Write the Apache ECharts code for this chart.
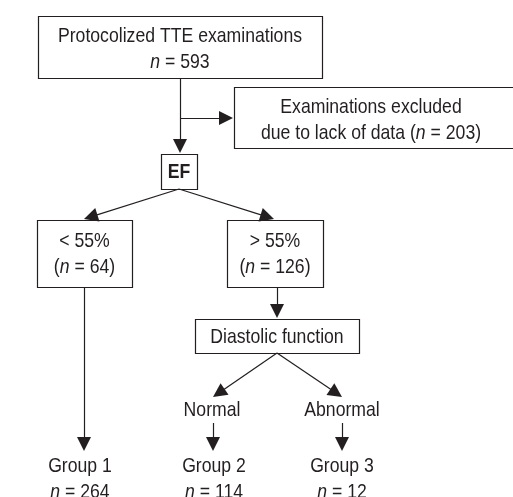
<!DOCTYPE html>
<html>
<head>
<meta charset="utf-8">
<script src="https://cdn.jsdelivr.net/npm/echarts@6/dist/echarts.min.js"></script>
<style>html,body{margin:0;padding:0;background:#fff;}#c{width:513px;height:497px;}</style>
</head>
<body>
<div id="c"></div>
<script>
// Flowchart content
var boxes = [ // [left, top, right, bottom]
  [38, 16, 322, 78],
  [234, 87, 530, 148],
  [161, 154, 197, 189],
  [37, 220, 132, 287],
  [227, 220, 323, 287],
  [195, 319, 359, 353]
];
var labelTexts = [
  'Protocolized TTE examinations\n{i|n} = 593',
  'Examinations excluded\ndue to lack of data ({i|n} = 203)',
  '{b|EF}',
  '< 55%\n({i|n} = 64)',
  '> 55%\n({i|n} = 126)',
  'Diastolic function',
  'Normal',
  'Abnormal',
  'Group 1\n{i|n} = 264',
  'Group 2\n{i|n} = 114',
  'Group 3\n{i|n} = 12'
];
var labelCenters = [
  [180, 49], [371, 120], [179, 172], [84.5, 254], [275, 254],
  [277, 337], [212, 410], [342, 410], [80, 479], [214, 479], [342, 479]
];
var arrows = [ // [from, to(tip)]
  [[180, 78], [180, 153]],
  [[180, 118], [233, 118]],
  [[179, 189], [84, 219]],
  [[179, 189], [274, 219]],
  [[277, 287], [277, 318]],
  [[84, 287], [84, 451]],
  [[277, 353], [213, 397]],
  [[277, 353], [342, 397]],
  [[213, 423], [213, 451]],
  [[342, 423], [342, 451]]
];

var INK = '#231f20';
var FONT = '"Liberation Sans", Arial, sans-serif';
var HEAD = 14;

var chart = echarts.init(document.getElementById('c'), null, {renderer: 'canvas'});

var lineData = arrows.map(function (a) {
  var f = a[0], t = a[1];
  var dx = t[0] - f[0], dy = t[1] - f[1];
  var L = Math.sqrt(dx * dx + dy * dy);
  var e = [t[0] - dx / L * HEAD / 2, t[1] - dy / L * HEAD / 2];
  return {coords: [f, e]};
});

chart.setOption({
  animation: false,
  backgroundColor: '#fff',
  grid: {left: 0, right: 0, top: 0, bottom: 0},
  xAxis: {type: 'value', min: 0, max: 513, show: false},
  yAxis: {type: 'value', min: 0, max: 497, inverse: true, show: false},
  series: [
    {
      type: 'custom',
      coordinateSystem: 'cartesian2d',
      z: 2,
      data: boxes,
      clip: true,
      renderItem: function (params, api) {
        var p0 = api.coord([api.value(0), api.value(1)]);
        var p1 = api.coord([api.value(2), api.value(3)]);
        return {
          type: 'rect',
          shape: {x: Math.round(p0[0]) + 0.5, y: Math.round(p0[1]) + 0.5,
                  width: Math.round(p1[0] - p0[0]), height: Math.round(p1[1] - p0[1])},
          style: {fill: '#fff', stroke: INK, lineWidth: 1.2}
        };
      }
    },
    {
      type: 'lines',
      coordinateSystem: 'cartesian2d',
      z: 3,
      symbol: ['none', 'triangle'],
      symbolSize: [11, HEAD],
      lineStyle: {color: INK, width: 1.2, opacity: 1, type: 'solid'},
      itemStyle: {color: INK},
      data: lineData
    },
    {
      type: 'custom',
      coordinateSystem: 'cartesian2d',
      z: 4,
      data: labelCenters.map(function (c, i) { return [c[0], c[1], i]; }),
      renderItem: function (params, api) {
        var p = api.coord([api.value(0), api.value(1)]);
        var idx = api.value(2);
        return {
          type: 'text',
          x: p[0], y: p[1],
          scaleX: 0.84,
          style: {
            text: labelTexts[idx],
            fill: INK,
            fontFamily: FONT,
            fontSize: 21,
            lineHeight: 26,
            align: 'center',
            verticalAlign: 'middle',
            rich: {
              i: {fontStyle: 'italic', fontFamily: FONT, fontSize: 21, lineHeight: 26, fill: INK},
              b: {fontWeight: 'bold', fontFamily: FONT, fontSize: 21, lineHeight: 26, fill: INK}
            }
          }
        };
      }
    }
  ]
});
</script>
</body>
</html>
